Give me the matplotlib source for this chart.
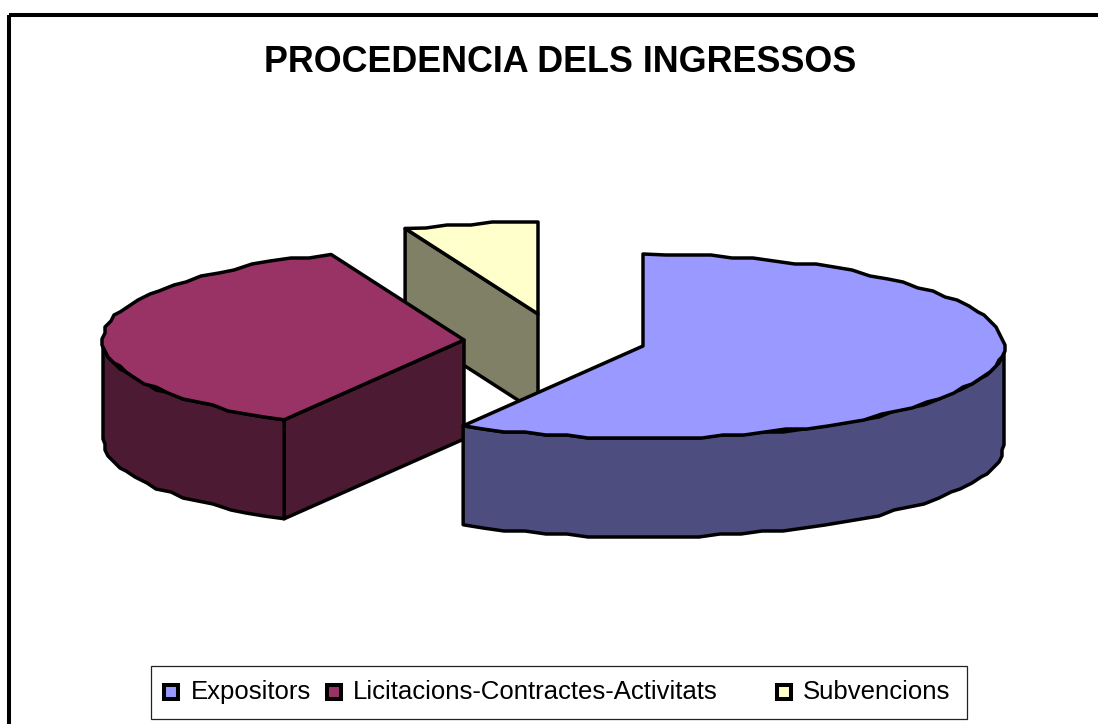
import matplotlib
matplotlib.use('Agg')
import matplotlib.pyplot as plt
from matplotlib.patches import Polygon, Rectangle
import numpy as np

title = 'PROCEDENCIA DELS INGRESSOS'
labels = ['Expositors', 'Licitacions-Contractes-Activitats', 'Subvencions']
values = [58.3, 35.7, 6]
colors = ['#9999FF', '#993366', '#FFFFCC']
side_colors = ['#4D4D80', '#4D1A33', '#808066']

# centre of each exploded slice, in pixels
centers = [(643, 346), (464, 340), (538, 314)]
rx, ry = 361, 92
depth = 99
grid = 3.0  # the edges in the picture are coarse, so snap them

# legend layout, in pixels
swatch_x = [171, 334, 784]
text_x = [191, 353, 803]

plt.rcParams['font.family'] = ['Liberation Sans', 'DejaVu Sans']
fig = plt.figure(figsize=(10.98, 7.24), dpi=100)
ax = fig.add_axes([0, 0, 1, 1])
ax.set_xlim(0, 1098)
ax.set_ylim(724, 0)
ax.axis('off')


def arc(center, t1, t2):
  n = max(2, int(abs(t1 - t2) / 3.5) + 1)
  t = np.radians(np.linspace(t1, t2, n))
  x = center[0] + rx * np.cos(t)
  y = center[1] - ry * np.sin(t)
  x[1:-1] = np.round(x[1:-1] / grid) * grid
  y[1:-1] = np.round(y[1:-1] / grid) * grid
  return np.column_stack([x, y])


def draw(poly, color, z):
  ax.add_patch(Polygon(poly, closed=True, facecolor=color, edgecolor='black',
                       linewidth=2.5, joinstyle='round', zorder=z))


# angles run clockwise from the top
start = 90.0
angles = []
for v in values:
  end = start - 360.0 * v / sum(values)
  angles.append((start, end))
  start = end
angles[1] = (angles[1][0] + 360, angles[1][1] + 360)
angles[2] = (angles[2][0] + 360, angles[2][1] + 360)

# back slices first so the front ones cover them
for i in [2, 1, 0]:
  c = centers[i]
  t1, t2 = angles[i]
  z = 3 - i
  top = arc(c, t1, t2)
  apex = np.array([c])
  drop = np.array([0, depth])

  if np.cos(np.radians(t1)) < -1e-6:
    face = np.vstack([apex, top[:1], top[:1] + drop, apex + drop])
    draw(face, side_colors[i], z)
  if np.cos(np.radians(t2)) > 1e-6:
    face = np.vstack([apex, top[-1:], top[-1:] + drop, apex + drop])
    draw(face, side_colors[i], z)

  # outer wall, only the front half of the ellipse shows
  if i == 0:
    wall = arc(c, 0, t2)
    draw(np.vstack([wall, wall[::-1] + drop]), side_colors[i], z)
  elif i == 1:
    wall = arc(c, t1, 180)
    draw(np.vstack([wall, wall[::-1] + drop]), side_colors[i], z)

  draw(np.vstack([apex, top]), colors[i], z)

ax.text(560, 62, title, ha='center', va='center', fontsize=25.8, fontweight='bold')

# chart area border
ax.add_patch(Rectangle((9, 15), 1200, 800, fill=False, edgecolor='black', linewidth=2.9, zorder=5))

# legend box, the label widths in the picture do not fit a uniform ax.legend
ax.add_patch(Rectangle((150.5, 666), 816.5, 53, facecolor='white', edgecolor='#222222', linewidth=0.9, zorder=6))
for label, color, sx, tx in zip(labels, colors, swatch_x, text_x):
  ax.add_patch(Rectangle((sx - 7, 684.5), 14, 14, facecolor=color, edgecolor='black', linewidth=2.9, zorder=7))
  ax.text(tx, 692, label, ha='left', va='center', fontsize=18.5, zorder=7)

fig.savefig('out.png', dpi=100)
